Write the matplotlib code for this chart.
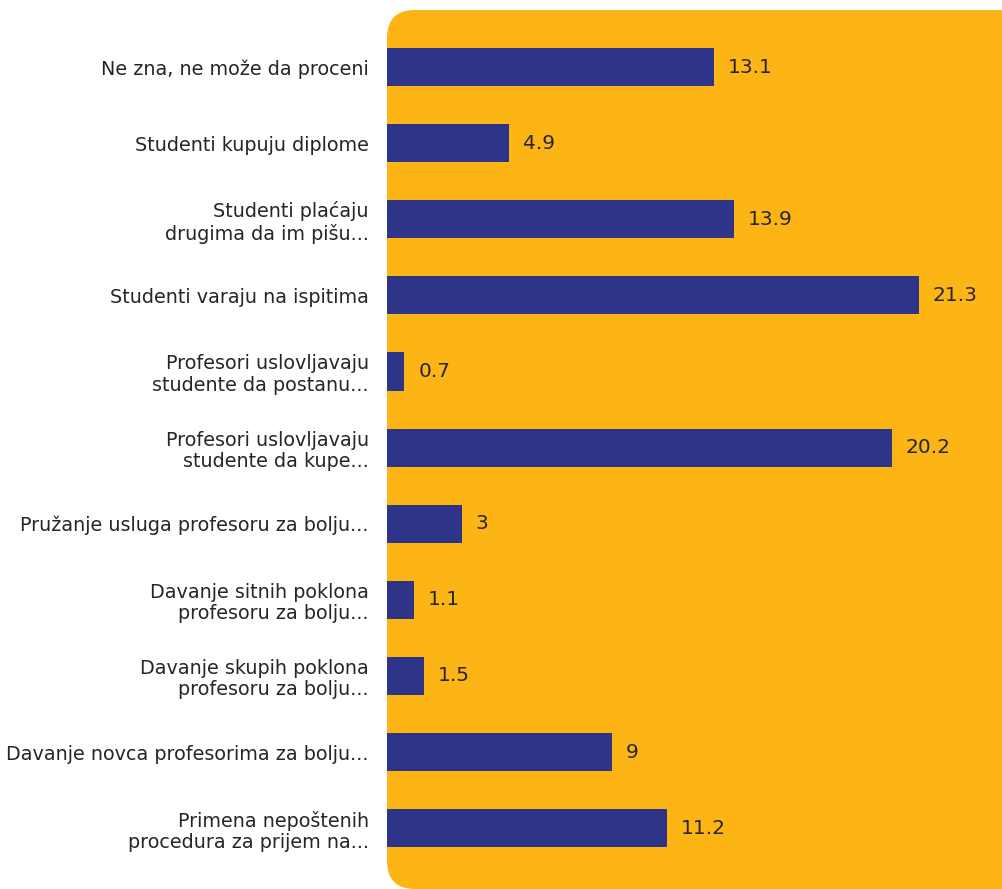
import matplotlib.pyplot as plt
from matplotlib.patches import FancyBboxPatch

# Data
categories = [
    'Ne zna, ne može da proceni',
    'Studenti kupuju diplome',
    'Studenti plaćaju\ndrugima da im pišu...',
    'Studenti varaju na ispitima',
    'Profesori uslovljavaju\nstudente da postanu...',
    'Profesori uslovljavaju\nstudente da kupe...',
    'Pružanje usluga profesoru za bolju...',
    'Davanje sitnih poklona\nprofesoru za bolju...',
    'Davanje skupih poklona\nprofesoru za bolju...',
    'Davanje novca profesorima za bolju...',
    'Primena nepoštenih\nprocedura za prijem na...',
]
values = [13.1, 4.9, 13.9, 21.3, 0.7, 20.2, 3, 1.1, 1.5, 9, 11.2]
value_labels = ['13.1', '4.9', '13.9', '21.3', '0.7', '20.2', '3', '1.1', '1.5', '9', '11.2']

YELLOW = '#FDB415'
NAVY = '#2E3487'
TEXT = '#262626'

W, H = 1003, 889
fig = plt.figure(figsize=(W / 100, H / 100), dpi=100)
fig.patch.set_facecolor('white')

# background panel (pixel coords)
bg = fig.add_axes([0, 0, 1, 1])
bg.set_xlim(0, W)
bg.set_ylim(H, 0)
bg.axis('off')
panel = FancyBboxPatch((387, 10), 700, 879,
                       boxstyle='round,pad=0,rounding_size=28',
                       facecolor=YELLOW, edgecolor='none')
bg.add_patch(panel)

# bar axes
x0 = 387
ax = fig.add_axes([x0 / W, 0, 1 - x0 / W, 1 - 10 / H])
ax.patch.set_alpha(0)
px_per_unit = (919 - 387) / 21.3
ax.set_xlim(0, (W - x0) / px_per_unit)
ypos = list(range(len(categories)))
ax.set_ylim(len(categories) - 1 + 0.80, -0.75)

ax.barh(ypos, values, height=0.5, color=NAVY)
for y, v, lab in zip(ypos, values, value_labels):
    ax.text(v + 0.55, y, lab, va='center', ha='left', fontsize=14.5,
            color=TEXT, family='DejaVu Sans')

ax.set_yticks(ypos)
ax.set_yticklabels(categories, fontsize=13.8, color=TEXT, family='DejaVu Sans',
                   linespacing=1.15)
ax.tick_params(axis='y', length=0, pad=13)
ax.set_xticks([])
for s in ax.spines.values():
    s.set_visible(False)

fig.savefig('out.png', dpi=100, facecolor='white')
